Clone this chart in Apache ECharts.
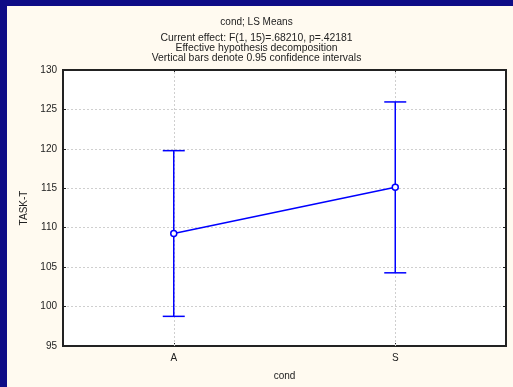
<!DOCTYPE html>
<html>
<head>
<meta charset="utf-8">
<script src="https://cdn.jsdelivr.net/npm/echarts@6/dist/echarts.min.js"></script>
<style>
  html, body { margin: 0; padding: 0; background: #0e0c86; }
  #frame { position: absolute; left: 7px; top: 6px; right: 0; bottom: 0; background: #fffaf0; }
  #chart { position: absolute; left: 0; top: 0; width: 513px; height: 387px; }
</style>
</head>
<body>
<div id="frame"></div>
<div id="chart"></div>
<script>
// LS means of TASK-T by condition, with 95% confidence limits
const categories = ['A', 'S'];
const means = [109.27, 115.13];
const lower = [98.76, 104.28];
const upper = [119.77, 125.95];
const yTicks = { min: 95, max: 130, step: 5 };

const titleText = 'cond; LS Means';
const subLines = [
  'Current effect: F(1, 15)=.68210, p=.42181',
  'Effective hypothesis decomposition',
  'Vertical bars denote 0.95 confidence intervals'
];

const font = 'Liberation Sans, Arial, sans-serif';
const ink = '#222';
const blue = '#0000ff';
const gridGrey = '#cfcfcf';

const chart = echarts.init(document.getElementById('chart'), null, { renderer: 'canvas' });

const errData = categories.map((c, i) => [i, lower[i], upper[i]]);

chart.setOption({
  backgroundColor: 'transparent',
  animation: false,
  textStyle: { fontFamily: font },
  title: [
    { text: titleText, left: 'center', top: 12,
      textStyle: { fontSize: 10, fontWeight: 'normal', color: ink, fontFamily: font } },
    { text: subLines.join('\n'), left: 'center', top: 28,
      textStyle: { fontSize: 10.4, fontWeight: 'normal', color: ink, lineHeight: 10, fontFamily: font, align: 'center' } }
  ],
  grid: {
    left: 63, right: 7, top: 70, bottom: 41,
    show: true, backgroundColor: '#ffffff', borderColor: '#333', borderWidth: 2
  },
  xAxis: [
    {
      type: 'category', data: categories, position: 'bottom', boundaryGap: true,
      name: 'cond', nameLocation: 'middle', nameGap: 25,
      nameTextStyle: { fontSize: 10, color: ink },
      axisLine: { show: true, lineStyle: { color: '#222', width: 2 } },
      axisTick: { show: true, alignWithLabel: true, inside: true, length: 3, lineStyle: { color: '#222' } },
      axisLabel: { fontSize: 10, color: ink, margin: 7 },
      splitLine: { show: false }
    },
    {
      type: 'category', data: categories, position: 'top', boundaryGap: true,
      axisLine: { show: true, lineStyle: { color: '#222', width: 2 } },
      axisTick: { show: true, alignWithLabel: true, inside: true, length: 3, lineStyle: { color: '#222' } },
      axisLabel: { show: false }, splitLine: { show: false }
    }
  ],
  yAxis: [
    {
      type: 'value', min: yTicks.min, max: yTicks.max, interval: yTicks.step,
      name: 'TASK-T', nameLocation: 'middle', nameGap: 34,
      nameTextStyle: { fontSize: 10, color: ink },
      axisLine: { show: true, lineStyle: { color: '#222', width: 2 } },
      axisTick: { show: true, inside: true, length: 3, lineStyle: { color: '#222' } },
      axisLabel: { fontSize: 10, color: ink, margin: 6 },
      splitLine: { show: true, lineStyle: { color: gridGrey, type: [2, 2], width: 1 } }
    },
    {
      type: 'value', min: yTicks.min, max: yTicks.max, interval: yTicks.step, position: 'right',
      axisLine: { show: true, lineStyle: { color: '#222', width: 2 } },
      axisTick: { show: true, inside: true, length: 3, lineStyle: { color: '#222' } },
      axisLabel: { show: false }, splitLine: { show: false }
    }
  ],
  series: [
    {
      type: 'custom',
      name: 'ci',
      xAxisIndex: 0, yAxisIndex: 0,
      data: errData,
      z: 3,
      renderItem: function (params, api) {
        const x = api.value(0);
        const lo = api.coord([x, api.value(1)]);
        const hi = api.coord([x, api.value(2)]);
        const cap = 11;
        const style = { stroke: blue, lineWidth: 1.5, fill: null };
        return {
          type: 'group',
          children: [
            { type: 'line', shape: { x1: lo[0], y1: lo[1], x2: hi[0], y2: hi[1] }, style: style },
            { type: 'line', shape: { x1: lo[0] - cap, y1: lo[1], x2: lo[0] + cap, y2: lo[1] }, style: style },
            { type: 'line', shape: { x1: hi[0] - cap, y1: hi[1], x2: hi[0] + cap, y2: hi[1] }, style: style }
          ]
        };
      }
    },
    {
      type: 'line',
      name: 'mean',
      data: means,
      z: 4,
      symbol: 'circle', symbolSize: 6,
      lineStyle: { color: blue, width: 1.5 },
      itemStyle: { color: '#ffffff', borderColor: blue, borderWidth: 1.5 },
      // vertical grid lines through each category
      markLine: {
        silent: true, symbol: 'none', label: { show: false }, z: 1,
        lineStyle: { color: gridGrey, type: [2, 2], width: 1 },
        emphasis: { disabled: true },
        data: categories.map(c => ({ xAxis: c }))
      }
    }
  ]
});
</script>
</body>
</html>
